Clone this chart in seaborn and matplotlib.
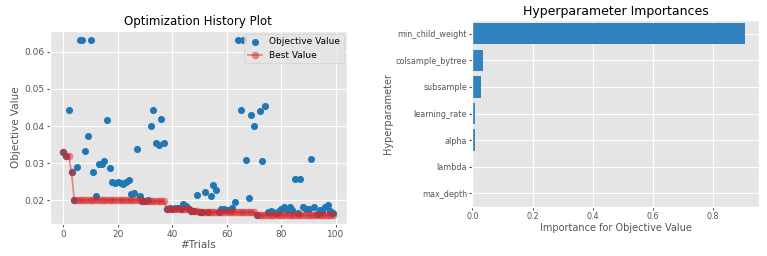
import numpy as np
import pandas as pd
import matplotlib
matplotlib.use("Agg")
import matplotlib.pyplot as plt
import seaborn as sns

# objective value of each trial
trial_values = [
    0.0329, 0.0318, 0.0444, 0.0275, 0.0201, 0.0289, 0.0632, 0.0632, 0.0334, 0.0372,
    0.0632, 0.0275, 0.0213, 0.0297, 0.0298, 0.0305, 0.0416, 0.0288, 0.0250, 0.0247,
    0.0250, 0.0247, 0.0245, 0.0250, 0.0254, 0.0216, 0.0221, 0.0337, 0.0213, 0.0199,
    0.0198, 0.0200, 0.0399, 0.0444, 0.0355, 0.0350, 0.0418, 0.0355, 0.0178, 0.0179,
    0.0178, 0.0180, 0.0179, 0.0176, 0.0190, 0.0186, 0.0176, 0.0172, 0.0171, 0.0215,
    0.0169, 0.0170, 0.0222, 0.0169, 0.0211, 0.0240, 0.0227, 0.0168, 0.0176, 0.0176,
    0.0175, 0.0175, 0.0179, 0.0196, 0.0632, 0.0444, 0.0630, 0.0308, 0.0206, 0.0430,
    0.0401, 0.0160, 0.0440, 0.0305, 0.0453, 0.0168, 0.0171, 0.0169, 0.0166, 0.0172,
    0.0178, 0.0182, 0.0175, 0.0183, 0.0175, 0.0258, 0.0167, 0.0258, 0.0183, 0.0178,
    0.0176, 0.0312, 0.0183, 0.0162, 0.0174, 0.0172, 0.0183, 0.0188, 0.0172, 0.0167,
]
trial_numbers = list(range(len(trial_values)))

# importances
params = ["min_child_weight", "colsample_bytree", "subsample", "learning_rate",
          "alpha", "lambda", "max_depth"]
importances = [0.908, 0.036, 0.027, 0.009, 0.010, 0.0, 0.0]

hist = pd.DataFrame({"trial": trial_numbers, "value": trial_values})
hist["best"] = np.minimum.accumulate(hist["value"])
imp = pd.DataFrame({"param": params, "importance": importances})

plt.style.use("ggplot")
fig = plt.figure(figsize=(7.67, 2.56), dpi=100)

# history plot
ax1 = fig.add_axes([0.065, 0.125, 0.387, 0.754])
sns.scatterplot(data=hist, x="trial", y="value", ax=ax1, color="tab:blue",
                s=26, linewidth=0, label="Objective Value")
sns.lineplot(data=hist, x="trial", y="best", ax=ax1, color="tab:red", marker="o",
             markersize=5.5, markeredgewidth=0, alpha=0.5, linewidth=1.2,
             label="Best Value")
ax1.set_title("Optimization History Plot", fontsize=8.5, pad=4)
ax1.set_xlabel("#Trials", fontsize=7.5, labelpad=1)
ax1.set_ylabel("Objective Value", fontsize=7.5, labelpad=2)
ax1.tick_params(labelsize=6.5, length=2, pad=2)
ax1.set_xticks([0, 20, 40, 60, 80, 100])
ax1.set_yticks([0.02, 0.03, 0.04, 0.05, 0.06])
handles, labels = ax1.get_legend_handles_labels()
order = [labels.index("Objective Value"), labels.index("Best Value")]
ax1.legend([handles[i] for i in order], [labels[i] for i in order],
           loc="upper right", fontsize=6.5, borderaxespad=0.3, handlelength=1.6)

# importance plot
ax2 = fig.add_axes([0.616, 0.193, 0.373, 0.727])
sns.barplot(data=imp, x="importance", y="param", ax=ax2, color="#3182bd",
            saturation=1, width=0.8, orient="h")
ax2.set_title("Hyperparameter Importances", fontsize=9, pad=4)
ax2.set_xlabel("Importance for Objective Value", fontsize=7, labelpad=1)
ax2.set_ylabel("Hyperparameter", fontsize=7, labelpad=2)
ax2.tick_params(labelsize=5.8, length=2, pad=2)
ax2.set_xlim(0, 0.953)
ax2.set_xticks([0.0, 0.2, 0.4, 0.6, 0.8])
ax2.grid(True, axis="both")

fig.savefig("out.png", dpi=100)
